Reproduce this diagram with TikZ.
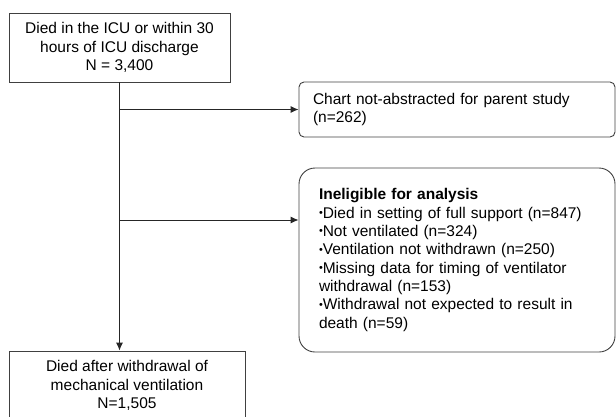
\documentclass[tikz,border=0pt]{standalone}
\usepackage{fontspec}
\setmainfont{Liberation Sans}
\usetikzlibrary{positioning,calc,arrows.meta}
\tikzset{font=\fontsize{15.5}{18.3}\selectfont}
\tikzset{
	sqbox/.style={draw=black!75, line width=0.9pt, align=center, inner sep=0pt},
	rbox/.style={draw=black!75, line width=0.9pt, align=left, inner ysep=0pt},
	flow/.style={draw=black!85, line width=0.9pt, -{Latex[length=8pt,width=7pt]}}
}
\newcommand{\dotitem}{\raisebox{1.6pt}{\scalebox{0.7}{•}}}

\begin{document}
\begin{tikzpicture}[x=1pt, y=-1pt]
	\useasboundingbox (0,0) rectangle (616,416);
	\node [sqbox, minimum width=221pt, minimum height=69pt] (icu) at (119.5, 47.5) {Died in the ICU or within 30\\hours of ICU discharge\\N = 3,400};
	\node [sqbox, minimum width=236pt, minimum height=69pt] (wmv) at (127, 385.5) {Died after withdrawal of\\mechanical ventilation\\N=1,505};

	\node [rbox, rounded corners=5pt, inner xsep=14pt, text width=288pt, minimum height=55pt] (chart) at (457, 109.5) {Chart not-abstracted for parent study\\(n=262)};
	\node [rbox, rounded corners=16pt, inner xsep=20pt, text width=276pt, minimum height=184pt] (inel) at (457, 260) {\textbf{Ineligible for analysis}\\
		\dotitem Died in setting of full support (n=847)\\
		\dotitem Not ventilated (n=324)\\
		\dotitem Ventilation not withdrawn (n=250)\\
		\dotitem Missing data for timing of ventilator\\
		withdrawal (n=153)\\
		\dotitem Withdrawal not expected to result in\\
		death (n=59)};

	% exclusions branch off the main line
	\coordinate (split1) at (icu.south |- chart.west);
	\coordinate (inelin) at ([yshift=40pt]inel.west);
	\coordinate (split2) at (icu.south |- inelin);
	\draw [flow] (split1) -- (chart.west);
	\draw [flow] (split2) -- (inelin);
	\draw [flow] (icu.south) -- (icu.south |- wmv.north);
\end{tikzpicture}
\end{document}
